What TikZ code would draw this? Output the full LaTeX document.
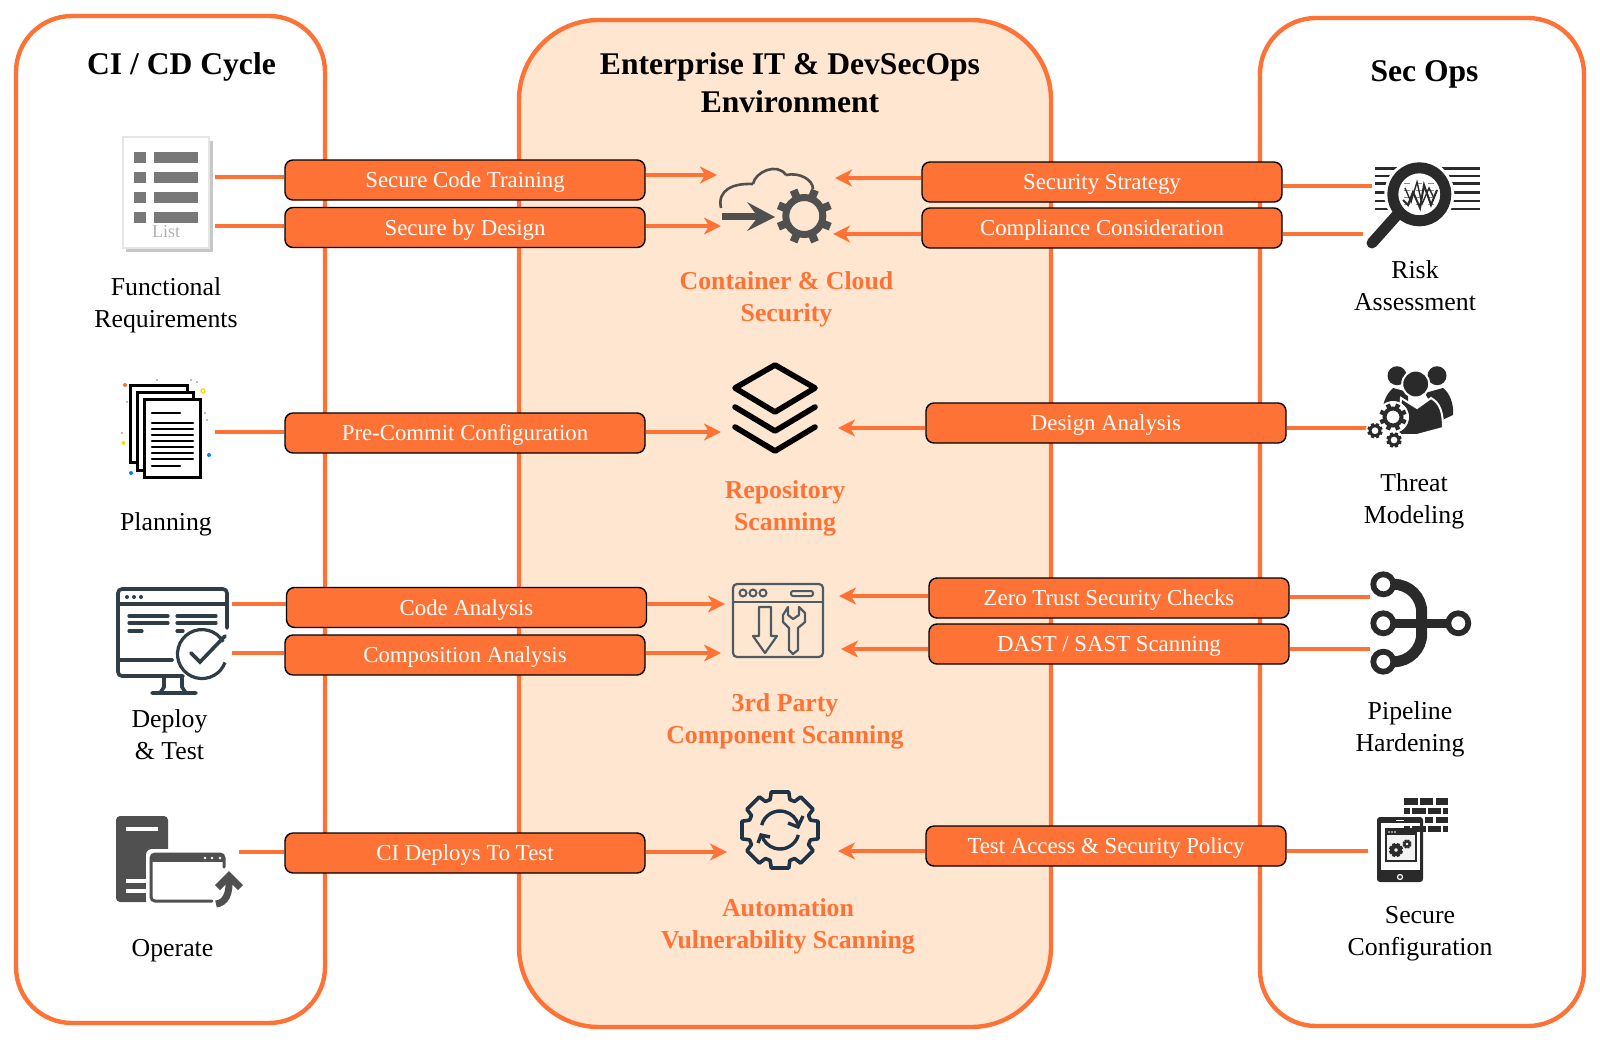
\documentclass[tikz,border=0pt]{standalone}
\usepackage{fontspec}
\setmainfont{Liberation Serif}
\usepackage{xcolor}
\definecolor{Col1}{RGB}{255,114,54}
\definecolor{Col2}{RGB}{255,230,208}
\definecolor{Col3}{RGB}{80,80,80}
\definecolor{Col4}{RGB}{42,42,42}
\definecolor{Col5}{RGB}{47,62,70}
\definecolor{Col6}{RGB}{31,51,71}
\usepackage{tikz}
\usetikzlibrary{arrows.meta}
\tikzstyle{Panel}=[draw=Col1,line width=2.2pt,rounded corners=28pt]
\tikzstyle{Edge}=[draw=Col1,line width=1.6pt]
\tikzstyle{Arrow}=[Edge,-{Stealth[length=8.5pt,width=8.5pt,inset=2.5pt]}]
\tikzstyle{NodeBox}=[draw=black,fill=Col1,text=white,line width=.7pt,rounded corners=4pt,
minimum width=180pt,minimum height=20pt,inner sep=0pt,text height=10pt,text depth=2.5pt,
font=\fontsize{11.4}{14}\selectfont]
\tikzstyle{NodeTitle}=[align=center,inner sep=0pt,font=\fontsize{15.8}{19}\selectfont\bfseries]
\tikzstyle{NodeStep}=[align=center,inner sep=0pt,font=\fontsize{12.9}{16}\selectfont]
\tikzstyle{NodeScan}=[NodeStep,text=Col1,font=\fontsize{12.9}{16}\selectfont\bfseries]
\newcommand{\Cog}[7]{
    \foreach \a in {22.5,67.5,...,337.5}
        \draw[#7,line width=#6](#1,#2)++(\a:#3)--++(\a:#4-#3);
    \draw[#7,line width=#5](#1,#2)circle(#3);
}
\begin{document}
\begin{tikzpicture}[x=.5pt,y=.5pt]
        \useasboundingbox(0,0)rectangle(1600,-1044);
        \draw[Panel,fill=Col2,rounded corners=40pt](519,-20)rectangle(1051,-1027);
        \draw[Panel](16,-16)rectangle(325,-1023);
        \draw[Panel](1260,-18)rectangle(1584,-1026);
        \node[NodeTitle](CycleTitle)at(181.5,-67){CI / CD Cycle};
        \node[NodeTitle](EnvTitle)at(790,-83){Enterprise IT \& DevSecOps\\Environment};
        \node[NodeTitle](OpsTitle)at(1424.5,-74){Sec Ops};
        \node[NodeBox](SecTrain)at(465,-180){Secure Code Training};
        \node[NodeBox](SecDesign)at(465,-227.5){Secure by Design};
        \node[NodeBox](PreCommit)at(465,-433){Pre-Commit Configuration};
        \node[NodeBox](CodeAna)at(466.5,-607.5){Code Analysis};
        \node[NodeBox](CompAna)at(465,-655){Composition Analysis};
        \node[NodeBox](CiDeploy)at(465,-853){CI Deploys To Test};
        \node[NodeBox](SecStrat)at(1102,-182){Security Strategy};
        \node[NodeBox](Compliance)at(1102,-228){Compliance Consideration};
        \node[NodeBox](DesignAna)at(1106,-423){Design Analysis};
        \node[NodeBox](ZeroTrust)at(1109,-598){Zero Trust Security Checks};
        \node[NodeBox](DastSast)at(1109,-644){DAST / SAST Scanning};
        \node[NodeBox](TestAccess)at(1106,-846){Test Access \& Security Policy};
        \node[NodeStep](FuncLabel)at(166,-305.5){Functional\\Requirements};
        \node[NodeStep](PlanLabel)at(166,-524){Planning};
        \node[NodeStep](DeployLabel)at(169.5,-735){Deploy\\\& Test};
        \node[NodeStep](OperLabel)at(172.5,-951){Operate};
        \node[NodeScan](CloudLabel)at(786.5,-299.5){Container \& Cloud\\Security};
        \node[NodeScan](RepoLabel)at(785,-508.5){Repository\\Scanning};
        \node[NodeScan](PartyLabel)at(785,-721){3rd Party\\Component Scanning};
        \node[NodeScan](AutoLabel)at(788,-926.5){Automation\\Vulnerability Scanning};
        \node[NodeStep](RiskLabel)at(1415,-285.5){Risk\\Assessment};
        \node[NodeStep](ThreatLabel)at(1414,-501.5){Threat\\Modeling};
        \node[NodeStep](PipeLabel)at(1410,-729){Pipeline\\Hardening};
        \node[NodeStep](ConfLabel)at(1420,-934){Secure\\Configuration};
        \coordinate(FuncA)at(215,-177);
        \coordinate(FuncB)at(215,-226);
        \coordinate(PlanA)at(215,-432);
        \coordinate(TestA)at(232,-604);
        \coordinate(TestB)at(232,-653);
        \coordinate(OperA)at(239,-852);
        \coordinate(CloudA)at(717,-175);
        \coordinate(CloudB)at(721,-226);
        \coordinate(RepoA)at(721,-432);
        \coordinate(PartyA)at(725,-604);
        \coordinate(PartyB)at(721,-653);
        \coordinate(AutoA)at(727,-852);
        \coordinate(CloudC)at(835,-178);
        \coordinate(CloudD)at(833,-234);
        \coordinate(RepoB)at(838,-428);
        \coordinate(PartyC)at(839,-596);
        \coordinate(PartyD)at(841,-649);
        \coordinate(AutoB)at(838,-851);
        \coordinate(RiskA)at(1372,-186);
        \coordinate(RiskB)at(1363,-234);
        \coordinate(ThreatA)at(1368,-428);
        \coordinate(PipeA)at(1370,-597);
        \coordinate(PipeB)at(1370,-649);
        \coordinate(ConfA)at(1368,-851);
        \draw[Edge](FuncA)--(FuncA-|SecTrain.west);
        \draw[Edge](FuncB)--(FuncB-|SecDesign.west);
        \draw[Edge](PlanA)--(PlanA-|PreCommit.west);
        \draw[Edge](TestA)--(TestA-|CodeAna.west);
        \draw[Edge](TestB)--(TestB-|CompAna.west);
        \draw[Edge](OperA)--(OperA-|CiDeploy.west);
        \draw[Arrow](CloudA-|SecTrain.east)--(CloudA);
        \draw[Arrow](CloudB-|SecDesign.east)--(CloudB);
        \draw[Arrow](RepoA-|PreCommit.east)--(RepoA);
        \draw[Arrow](PartyA-|CodeAna.east)--(PartyA);
        \draw[Arrow](PartyB-|CompAna.east)--(PartyB);
        \draw[Arrow](AutoA-|CiDeploy.east)--(AutoA);
        \draw[Arrow](CloudC-|SecStrat.west)--(CloudC);
        \draw[Arrow](CloudD-|Compliance.west)--(CloudD);
        \draw[Arrow](RepoB-|DesignAna.west)--(RepoB);
        \draw[Arrow](PartyC-|ZeroTrust.west)--(PartyC);
        \draw[Arrow](PartyD-|DastSast.west)--(PartyD);
        \draw[Arrow](AutoB-|TestAccess.west)--(AutoB);
        \draw[Edge](RiskA-|SecStrat.east)--(RiskA);
        \draw[Edge](RiskB-|Compliance.east)--(RiskB);
        \draw[Edge](ThreatA-|DesignAna.east)--(ThreatA);
        \draw[Edge](PipeA-|ZeroTrust.east)--(PipeA);
        \draw[Edge](PipeB-|DastSast.east)--(PipeB);
        \draw[Edge](ConfA-|TestAccess.east)--(ConfA);
        % list sheet
        \fill[black!22](126,-141)rectangle(212.5,-252);
        \draw[black!10,fill=white,line width=.8pt](123,-137)rectangle(209,-248);
        \foreach \y in {152,172,192,212}{
            \fill[black!53](134,-\y)rectangle(146,-\y-11);
            \fill[black!53](154,-\y)rectangle(198,-\y-11);
        }
        \node[inner sep=0pt,text=black!30,font=\fontsize{9}{10}\selectfont](ListWord)at(166,-232){List};
        % stacked pages
        \draw[black,fill=white,line width=1.5pt](130,-385)rectangle(187,-462);
        \draw[black,fill=white,line width=1.5pt](137,-392)rectangle(193,-470);
        \draw[black,fill=white,line width=1.5pt](144,-399)rectangle(200,-477);
        \draw[black,line width=1.3pt,line cap=round](152,-413)--(180,-413);
        \foreach \y in {423,429,435,441,447,453,459}
            \draw[black,line width=1.3pt,line cap=round](152,-\y)--(193,-\y);
        \draw[black,line width=1.3pt,line cap=round](152,-466)--(180,-466);
        \fill[Col1](125,-385)circle(2);
        \draw[yellow!80!orange,line width=.7pt](203,-391)circle(2);
        \fill[yellow!80!orange](123.5,-443)circle(2);
        \fill[blue!50!cyan](209,-455)circle(2);
        \fill[blue!50!cyan](131,-473)circle(2);
        \foreach \x/\y in {157/380,191/380,197/382,127/402,205/413,207/420,122/433}
            \fill[black!50](\x,-\y)circle(.8);
        % monitor with check
        \draw[Col5,line width=1.8pt,line cap=round,rounded corners=2pt](227,-628)--(227,-589)--(118,-589)--(118,-676)--(183,-676);
        \draw[Col5,line width=1.8pt](118,-604)--(227,-604);
        \draw[Col5,line width=1.8pt,line cap=round](118,-660)--(172,-660);
        \foreach \x in {127,134,141}
            \fill[Col5](\x,-597)circle(2);
        \foreach \y in {616,623}{
            \draw[Col5,line width=1.6pt,line cap=round](129,-\y)--(168,-\y);
            \draw[Col5,line width=1.6pt,line cap=round](177,-\y)--(216,-\y);
        }
        \draw[Col5,line width=1.6pt,line cap=round](129,-631)--(142,-631);
        \draw[Col5,line width=1.6pt,line cap=round](177,-631)--(183,-631);
        \draw[Col5,line width=1.6pt](223.2,-641.8)arc(30:340:24.5);
        \draw[Col5,line width=1.8pt,line cap=round](191,-653)--(200,-662)--(225,-636);
        \draw[Col5,line width=1.8pt,line cap=round](164,-677)--(164,-687)--(160,-693)(182,-677)--(182,-687)--(186,-693)(152,-693)--(196,-693);
        % server and window
        \fill[Col3,rounded corners=2pt](116,-816)rectangle(168,-902);
        \draw[white,line width=2pt](126,-829)--(158,-829);
        \draw[white,line width=2pt](126,-881)--(148,-881);
        \draw[white,line width=2pt](126,-891)--(148,-891);
        \fill[white,rounded corners=3pt](146,-849)rectangle(230,-906);
        \draw[Col3,line width=1.5pt,line cap=round,rounded corners=2pt](224,-867)--(224,-854)--(151,-854)--(151,-901)--(212,-901);
        \fill[Col3](151,-854)rectangle(224,-862);
        \foreach \x in {205,212,220}
            \fill[white](\x,-858)circle(1.3);
        \fill[Col3](229,-871)--(243,-885)--(238,-890)--(229,-881)--(220,-890)--(215,-885)--cycle;
        \draw[Col3,line width=3.5pt](229,-878).. controls (230,-893) and (226,-903) .. (216,-904);
        % cloud and cog
        \draw[Col3,line width=1.3pt](721,-208).. controls (717,-190) and (733,-183) .. (753,-184);
        \draw[Col3,line width=1.3pt](753,-184).. controls (755,-172) and (777,-162) .. (786,-175);
        \draw[Col3,line width=1.3pt](786,-175).. controls (800,-172) and (813,-180) .. (813,-189);
        \fill[Col3](722,-213)rectangle(760,-220);
        \fill[Col3](747,-202)--(775,-217)--(747,-231)--(758,-217)--cycle;
        \Cog{804.3}{-216}{18.5}{28}{3.5pt}{4pt}{Col3}
        % layers
        \draw[black,line width=2.8pt,line join=round](775,-365)--(815,-388)--(775,-412)--(735,-388)--cycle;
        \draw[black,line width=2.8pt,line join=round,line cap=round](735,-407)--(775,-431)--(815,-407);
        \draw[black,line width=2.8pt,line join=round,line cap=round](735,-427)--(775,-451)--(815,-427);
        % window with tool
        \draw[Col5!85,line width=1.1pt,rounded corners=2pt](733,-584)rectangle(823,-657);
        \draw[Col5!85,line width=1.1pt](733,-602)--(823,-602);
        \foreach \x in {743,753,763}
            \draw[Col5!85,line width=1pt](\x,-593)circle(3.5);
        \draw[Col5!85,line width=1pt,rounded corners=1pt](791,-591)rectangle(813,-596);
        \draw[Col5!85,line width=1.1pt,line join=round](759,-607)--(771,-607)--(771,-636)--(777,-636)--(765,-653)--(753,-636)--(759,-636)--cycle;
        \draw[Col5!85,line width=1.1pt,line join=round](788,-607)--(783,-615)--(783,-622)--(789,-628)--(789,-650)--(793,-654)--(798,-650)--(798,-628)--(805,-622)--(805,-613)--(799,-607)--(799,-615)--(793,-619)--(788,-615)--cycle;
        % gear with arrows
        \draw[Col6,line width=1.8pt,line join=round,shift={(780,-830)}](-13:39)
            \foreach \a in {0,45,...,315}{--(\a-13:39)--(\a+13:39)--(\a+18:32)--(\a+27:32)}--cycle;
        \draw[Col6,line width=1.7pt,shift={(780,-830)}](165:19)arc(165:15:19);
        \draw[Col6,line width=1.7pt,shift={(780,-830)}](-15:19)arc(-15:-165:19);
        \draw[Col6,line width=1.7pt](788,-823)--(798,-827)--(803,-816);
        \draw[Col6,line width=1.7pt](770,-837)--(761,-835)--(758,-843);
        % magnifier
        \foreach \y in {168.3,175.7,183.3,192.3,200.7,209}
            \draw[Col4,line width=1.2pt](1375,-\y)--(1480,-\y);
        \fill[white](1419.3,-194.3)circle(35);
        \draw[Col4,line width=5.5pt,line cap=round](1397,-215)--(1372,-243);
        \draw[Col4,line width=5.5pt,fill=white](1419.3,-194.3)circle(26.5);
        \foreach \y in {183,190,197,204}
            \draw[black!45,line width=.5pt,dashed](1404,-\y)--(1435,-\y);
        \draw[Col4,line width=1pt](1403,-200)--(1408,-205)--(1413,-192)--(1420,-208)--(1424,-185)--(1431,-205)--(1437,-190);
        \draw[Col4,line width=.7pt](1405,-188)--(1411,-202)--(1417,-182)--(1422,-204)--(1429,-188)--(1434,-198);
        % team with cogs
        \fill[Col4](1397,-375.7)circle(9.5);
        \fill[Col4](1437,-375.7)circle(9.5);
        \fill[Col4](1393,-388).. controls (1385,-395) and (1382,-405) .. (1382,-418)--(1408,-418)--(1408,-392)--cycle;
        \fill[Col4](1425,-393)--(1443,-388).. controls (1450,-393) and (1454,-405) .. (1453,-415)--(1440,-421)--cycle;
        \draw[white,line width=1pt,fill=Col4](1415.7,-384)circle(13.5);
        \draw[white,line width=1pt,fill=Col4](1401,-398)--(1417,-408)--(1431,-398).. controls (1440,-403) and (1443,-412) .. (1443,-428)--(1417,-435)--(1398,-435)--cycle;
        \fill[white](1393,-417)circle(16);
        \fill[white](1375,-430.7)circle(9.5);
        \fill[white](1394,-440)circle(9.5);
        \Cog{1393}{-417}{8.5}{13.7}{2pt}{2.2pt}{Col4}
        \Cog{1375}{-430.7}{5}{7.7}{1.4pt}{1.5pt}{Col4}
        \Cog{1394}{-440}{5}{7.7}{1.4pt}{1.5pt}{Col4}
        % pipeline
        \draw[Col4,line width=5.5pt,rounded corners=14pt](1393,-584.3)--(1421.7,-584.3)--(1421.7,-661.7)--(1393,-661.7);
        \draw[Col4,line width=4.5pt](1393,-623.3)--(1448,-623.3);
        \draw[Col4,line width=2.9pt,fill=white](1383.3,-584.3)circle(10);
        \draw[Col4,line width=2.9pt,fill=white](1383.3,-623.3)circle(10);
        \draw[Col4,line width=2.9pt,fill=white](1383.3,-661.7)circle(10);
        \draw[Col4,line width=2.9pt,fill=white](1458.3,-623.3)circle(10);
        % tablet and wall
        \foreach \l/\r in {1425/1433.3,1435.7/1448.3}
            \fill[Col4](\l,-816.7)rectangle(\r,-823.3);
        \fill[Col4,rounded corners=1.5pt](1377,-817)rectangle(1423,-882);
        \fill[white](1381,-823)rectangle(1420,-870);
        \foreach \l/\r in {1404.3/1417.7,1420/1433.3,1435.7/1448.3}
            \fill[Col4](\l,-798.3)rectangle(\r,-805);
        \foreach \l/\r in {1404.3/1410,1412.3/1425.7,1428/1440.7,1443/1448.3}{
            \fill[Col4](\l,-807.7)rectangle(\r,-814);
            \fill[Col4](\l,-825.7)rectangle(\r,-832.3);
        }
        \draw[white,line width=.5pt](1396,-820)--(1404,-820);
        \draw[white,line width=.6pt](1400,-877)circle(2.5);
        \draw[Col4,line width=1pt,fill=black!5](1386,-829)rectangle(1416,-861);
        \fill[Col4](1386,-829)rectangle(1416,-835);
        \foreach \x in {1389,1392,1395}
            \fill[white](\x,-832)circle(.9);
        \Cog{1396}{-850}{4}{7}{2pt}{1.6pt}{Col4}
        \Cog{1407}{-844}{2.5}{4.5}{1pt}{1pt}{Col4}
\end{tikzpicture}
\end{document}
